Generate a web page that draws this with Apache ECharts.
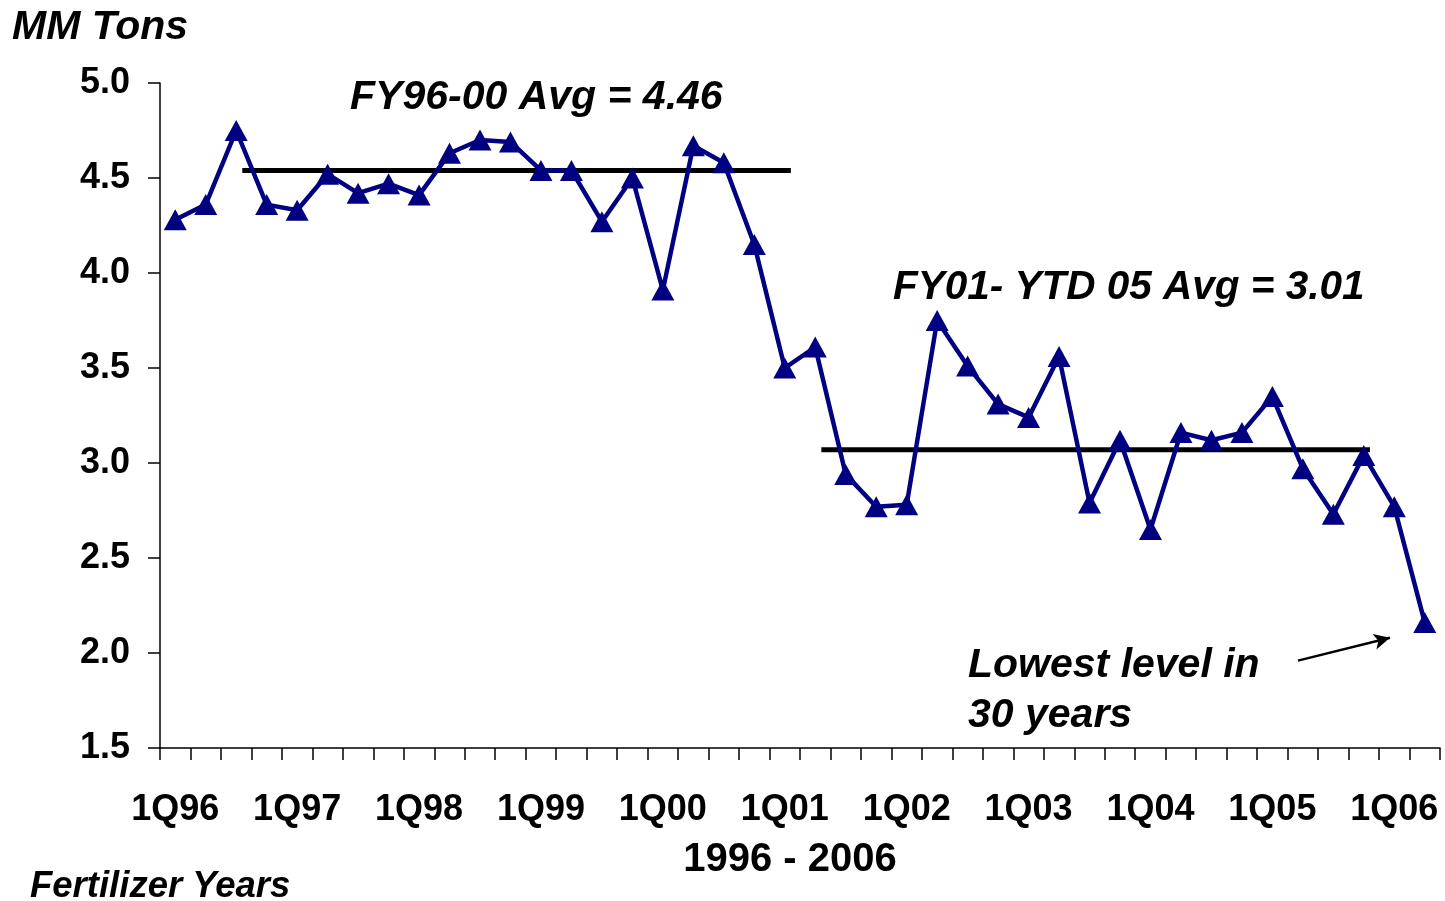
<!DOCTYPE html>
<html>
<head>
<meta charset="utf-8">
<script src="https://cdn.jsdelivr.net/npm/echarts@6/dist/echarts.min.js"></script>
<style>
  html, body { margin: 0; padding: 0; background: #fff; }
  #chart { width: 1445px; height: 901px; }
</style>
</head>
<body>
<div id="chart"></div>
<script>
// quarters 1Q96 .. 2Q06
var quarters = [];
var years = ['96', '97', '98', '99', '00', '01', '02', '03', '04', '05', '06'];
years.forEach(function (y) {
    for (var q = 1; q <= 4; q++) quarters.push(q + 'Q' + y);
});
quarters = quarters.slice(0, 42);

// MM Tons per quarter
var tons = [
    4.28, 4.36, 4.75, 4.36, 4.33, 4.52, 4.42, 4.47, 4.41, 4.63,
    4.70, 4.69, 4.54, 4.54, 4.27, 4.50, 3.91, 4.67, 4.58, 4.15,
    3.50, 3.61, 2.94, 2.77, 2.78, 3.75, 3.51, 3.31, 3.24, 3.56,
    2.79, 3.12, 2.65, 3.16, 3.12, 3.16, 3.35, 2.97, 2.73, 3.04,
    2.77, 2.16
];

// average lines: [start index, end index, level]
var avg1 = [[2.2, 4.54], [20.2, 4.54]];
var avg2 = [[21.2, 3.07], [39.2, 3.07]];

// arrow to the last point
var arrowFrom = [36.84, 1.96];
var arrowTo = [39.86, 2.08];

var font = '"Liberation Sans", Arial, sans-serif';

var myChart = echarts.init(document.getElementById('chart'));
var option = {
    animation: false,
    backgroundColor: '#fff',
    grid: { left: 160, right: 5, top: 83, bottom: 153, outerBoundsMode: 'none', containLabel: false },
    xAxis: [{
        type: 'category',
        data: quarters,
        boundaryGap: true,
        axisLine: { lineStyle: { color: '#000', width: 1.5 } },
        axisTick: { show: true, interval: 0, length: 12, lineStyle: { color: '#000', width: 1.5 } },
        axisLabel: {
            interval: 3,
            margin: 44,
            color: '#000',
            fontFamily: font,
            fontWeight: 'bold',
            fontSize: 36
        },
        name: '1996 - 2006',
        nameLocation: 'middle',
        nameGap: 92,
        nameTextStyle: { color: '#000', fontFamily: font, fontWeight: 'bold', fontSize: 40, padding: [0, 20, 0, 0] }
    }, {
        type: 'value',
        min: -0.5,
        max: 41.5,
        show: false
    }],
    yAxis: {
        type: 'value',
        min: 1.5,
        max: 5.0,
        interval: 0.5,
        splitLine: { show: false },
        axisLine: { show: true, onZero: false, lineStyle: { color: '#000', width: 1.5 } },
        axisTick: { show: true, length: 12, lineStyle: { color: '#000', width: 1.5 } },
        axisLabel: {
            margin: 30,
            color: '#000',
            fontFamily: font,
            fontWeight: 'bold',
            fontSize: 36,
            formatter: function (v) { return v.toFixed(1); }
        }
    },
    graphic: [
        { type: 'text', left: 12, top: 7, style: { text: 'MM Tons', fill: '#000', font: 'italic bold 41px ' + font } },
        { type: 'text', left: 30, top: 868, style: { text: 'Fertilizer Years', fill: '#000', font: 'italic bold 36.5px ' + font } },
        { type: 'text', left: 350, top: 77, style: { text: 'FY96-00 Avg = 4.46', fill: '#000', font: 'italic bold 41px ' + font } },
        { type: 'text', left: 893, top: 267, style: { text: 'FY01- YTD 05 Avg = 3.01', fill: '#000', font: 'italic bold 40.5px ' + font } },
        { type: 'text', left: 968, top: 641, style: { text: 'Lowest level in\n30 years', fill: '#000', lineHeight: 50, font: 'italic bold 41px ' + font } }
    ],
    series: [{
        type: 'line',
        data: tons,
        symbol: 'triangle',
        symbolSize: [23, 21],
        showAllSymbol: true,
        itemStyle: { color: '#000080' },
        lineStyle: { color: '#000080', width: 4.5 },
        z: 3
    }, {
        type: 'line',
        xAxisIndex: 1,
        data: avg1,
        symbol: 'none',
        lineStyle: { color: '#000', width: 5 },
        z: 2
    }, {
        type: 'line',
        xAxisIndex: 1,
        data: avg2,
        symbol: 'none',
        lineStyle: { color: '#000', width: 5 },
        z: 2
    }, {
        type: 'line',
        xAxisIndex: 1,
        data: [],
        markLine: {
            silent: true,
            symbol: ['none', 'arrow'],
            symbolSize: [12, 16],
            label: { show: false },
            lineStyle: { color: '#000', width: 2.5, type: 'solid' },
            data: [[{ coord: arrowFrom }, { coord: arrowTo }]]
        }
    }]
};
myChart.setOption(option);
</script>
</body>
</html>
